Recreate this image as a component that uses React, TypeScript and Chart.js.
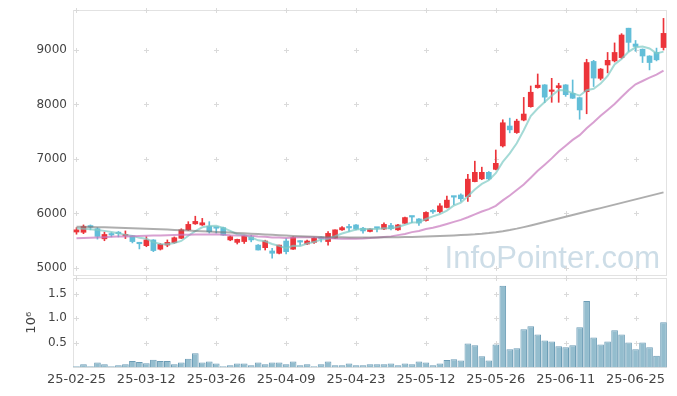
import React, { useEffect, useRef } from "react";
import { Chart, registerables } from "chart.js";
Chart.register(...registerables);

const DATES = [
  "25-02-25","25-02-26","25-02-27","25-02-28","25-03-04","25-03-05","25-03-06","25-03-07","25-03-10","25-03-11",
  "25-03-12","25-03-13","25-03-14","25-03-17","25-03-18","25-03-19","25-03-20","25-03-21","25-03-24","25-03-25",
  "25-03-26","25-03-27","25-03-28","25-03-31","25-04-01","25-04-02","25-04-03","25-04-04","25-04-07","25-04-08",
  "25-04-09","25-04-10","25-04-11","25-04-14","25-04-15","25-04-16","25-04-17","25-04-18","25-04-21","25-04-22",
  "25-04-23","25-04-24","25-04-25","25-04-28","25-04-29","25-04-30","25-05-02","25-05-07","25-05-08","25-05-09",
  "25-05-12","25-05-13","25-05-14","25-05-15","25-05-16","25-05-19","25-05-20","25-05-21","25-05-22","25-05-23",
  "25-05-26","25-05-27","25-05-28","25-05-29","25-05-30","25-06-02","25-06-04","25-06-05","25-06-09","25-06-10",
  "25-06-11","25-06-12","25-06-13","25-06-16","25-06-17","25-06-18","25-06-19","25-06-20","25-06-23","25-06-24",
  "25-06-25","25-06-26","25-06-27","25-06-30","25-07-01",
];

const OPEN = [
  5660,5655,5760,5720,5535,5620,5640,5590,5590,5455,
  5410,5515,5345,5420,5465,5545,5700,5810,5790,5765,
  5740,5740,5515,5470,5485,5570,5420,5373,5312,5270,
  5495,5345,5500,5440,5470,5550,5485,5545,5700,5745,
  5790,5730,5670,5740,5715,5780,5700,5820,5945,5900,
  5870,6040,6035,6110,6310,6340,6310,6585,6635,6755,
  6810,7240,7605,7485,7715,7960,8310,8360,8240,8310,
  8360,8205,8125,8235,8790,8480,8725,8800,8860,9400,
  9110,9015,8890,8955,9045,
];
const HIGH = [
  5740,5790,5790,5740,5660,5650,5670,5680,5600,5460,
  5575,5520,5450,5515,5570,5720,5850,5950,5910,5850,
  5745,5750,5590,5530,5600,5600,5430,5510,5360,5420,
  5540,5570,5505,5510,5560,5570,5670,5700,5760,5800,
  5795,5745,5725,5745,5830,5820,5800,5935,5950,5905,
  6030,6070,6180,6320,6315,6360,6720,6960,6850,6770,
  7165,7720,7750,7730,8130,8340,8560,8365,8480,8390,
  8365,8450,8130,8830,8810,8660,8955,9130,9300,9400,
  9175,9020,8895,9035,9580,
];
const LOW = [
  5620,5630,5700,5530,5500,5570,5570,5540,5460,5350,
  5390,5300,5330,5390,5450,5540,5690,5800,5780,5640,
  5640,5600,5500,5440,5450,5480,5330,5330,5180,5260,
  5260,5340,5420,5430,5450,5480,5420,5540,5690,5670,
  5700,5640,5660,5660,5705,5700,5690,5815,5830,5780,
  5860,6000,6010,6100,6160,6220,6220,6580,6620,6620,
  6800,7220,7480,7470,7700,7950,8300,8035,8040,8040,
  8150,8110,7730,7830,8330,8450,8580,8780,8840,8975,
  8975,8770,8635,8800,9000,
];
const CLOSE = [
  5700,5760,5750,5580,5615,5605,5630,5610,5485,5445,
  5515,5320,5435,5470,5555,5700,5800,5855,5830,5665,
  5730,5605,5575,5525,5590,5515,5330,5495,5270,5420,
  5300,5560,5475,5495,5545,5540,5635,5700,5740,5735,
  5715,5680,5715,5730,5800,5720,5790,5925,5935,5825,
  6020,6030,6140,6245,6300,6270,6630,6755,6755,6635,
  6920,7665,7535,7695,7825,8225,8355,8135,8265,8345,
  8180,8115,7900,8770,8485,8650,8810,8955,9275,9140,
  9065,8890,8770,8820,9305,
];

const MA5 = [
  5730,5720,5710,5695,5681,5662,5636,5608,5589,5555,
  5537,5475,5440,5437,5459,5496,5592,5675,5747,5769,
  5775,5736,5681,5620,5605,5562,5507,5491,5440,5406,
  5363,5409,5405,5450,5475,5523,5538,5583,5632,5670,
  5705,5714,5717,5715,5728,5729,5751,5793,5834,5839,
  5899,5947,5990,6052,6147,6197,6317,6440,6542,6609,
  6739,6946,7102,7290,7528,7789,7927,8047,8161,8265,
  8256,8208,8161,8262,8290,8384,8523,8734,8835,8966,
  9049,9065,9028,8937,8970,
];
const MA20 = [
  5545,5550,5556,5560,5566,5572,5576,5580,5584,5588,
  5592,5595,5598,5602,5606,5609,5612,5614,5615,5616,
  5618,5610,5601,5598,5597,5593,5578,5572,5561,5560,
  5549,5561,5563,5564,5564,5556,5548,5540,5536,5539,
  5538,5542,5549,5559,5570,5580,5603,5625,5658,5678,
  5714,5738,5771,5808,5846,5883,5932,5985,6036,6081,
  6141,6240,6331,6430,6531,6656,6784,6895,7011,7137,
  7245,7350,7438,7564,7673,7792,7901,8011,8137,8262,
  8370,8431,8493,8549,8623,
];
const MA120 = [
  5758,5755,5752,5749,5746,5742,5738,5734,5730,5726,
  5721,5716,5711,5705,5699,5692,5686,5680,5674,5668,
  5662,5656,5650,5644,5637,5630,5623,5616,5609,5602,
  5595,5589,5583,5578,5573,5569,5566,5564,5562,5561,
  5560,5560,5560,5561,5562,5563,5565,5567,5570,5573,
  5577,5581,5586,5592,5598,5605,5610,5617,5627,5640,
  5656,5675,5697,5722,5750,5780,5811,5843,5875,5907,
  5939,5971,6003,6035,6067,6099,6131,6163,6195,6227,
  6259,6291,6323,6355,6387,
];

const VOLUME = [
  27000,67000,27000,100000,67000,27000,47000,67000,130000,110000,
  88000,160000,130000,130000,67000,100000,180000,290000,100000,120000,
  80000,27000,47000,80000,80000,47000,100000,67000,100000,100000,
  67000,120000,47000,67000,27000,67000,120000,47000,47000,80000,
  47000,47000,67000,67000,67000,80000,47000,80000,67000,120000,
  100000,47000,80000,150000,170000,140000,490000,450000,230000,140000,
  470000,1660000,370000,390000,780000,840000,670000,550000,530000,430000,
  410000,450000,820000,1350000,610000,470000,530000,760000,670000,510000,
  370000,510000,410000,240000,920000,
];

const PRICE_TICKS = [5000, 6000, 7000, 8000, 9000];
const PRICE_RANGE = [4853, 9734];
const VOLUME_TICKS = [500000, 1000000, 1500000];
const VOLUME_RANGE = [0, 1820000];
const DATE_TICKS = ["25-02-25","25-03-12","25-03-26","25-04-09","25-04-23","25-05-12","25-05-26","25-06-11","25-06-25"];

const UP = "rgb(236,52,58)";
const DOWN = "rgb(98,190,216)";
const FONT = "'DejaVu Sans', sans-serif";

function framePlugin(watermark: boolean) {
  return {
    id: "frameCross",
    beforeDatasetsDraw(chart: any) {
      const { ctx, chartArea: a, scales } = chart;
      const xs = scales.x;
      const ys = scales.y;
      ctx.save();
      if (watermark) {
        ctx.font = "31px 'Liberation Sans', Arial, sans-serif";
        ctx.fillStyle = "rgba(192,213,225,0.8)";
        ctx.textAlign = "right";
        ctx.textBaseline = "alphabetic";
        ctx.fillText("InfoPointer.com", a.right - 7, a.bottom - 8);
      }
      ctx.strokeStyle = "#e2e2e2";
      ctx.lineWidth = 1;
      const L = Math.round(a.left) + 0.5;
      const R = Math.round(a.right) - 0.5;
      const T = Math.round(a.top) + 0.5;
      const B = Math.round(a.bottom) - 0.5;
      ctx.strokeRect(L, T, R - L, B - T);
      ctx.strokeStyle = "#dadada";
      const yPix = [a.top, ...ys.ticks.map((t: any) => ys.getPixelForValue(t.value))];
      for (const d of DATE_TICKS) {
        const px = Math.round(xs.getPixelForValue(DATES.indexOf(d))) + 0.5;
        for (const p of yPix) {
          const py = Math.round(p) + 0.5;
          ctx.beginPath();
          ctx.moveTo(px - 2.5, py);
          ctx.lineTo(px + 2.5, py);
          ctx.moveTo(px, py - 2.5);
          ctx.lineTo(px, py + 2.5);
          ctx.stroke();
        }
      }
      ctx.restore();
    },
  };
}

export default function App() {
  const priceRef = useRef<HTMLCanvasElement>(null);
  const volRef = useRef<HTMLCanvasElement>(null);

  useEffect(() => {
    const colors = DATES.map((_, i) => (CLOSE[i] >= OPEN[i] ? UP : DOWN));
    const lineDs = (label: string, data: number[], color: string) => ({
      type: "line" as const,
      label,
      data,
      borderColor: color,
      borderWidth: 2,
      pointRadius: 0,
      tension: 0,
      fill: false,
      order: 0,
    });
    const noPad = (s: any) => { s.width = 73; s.paddingTop = 0; s.paddingBottom = 0; };
    const price = new Chart(priceRef.current!, {
      type: "bar",
      data: {
        labels: DATES,
        datasets: [
          lineDs("MA120", MA120, "rgba(120,120,120,0.6)"),
          lineDs("MA20", MA20, "rgba(200,120,190,0.7)"),
          lineDs("MA5", MA5, "rgba(125,202,197,0.7)"),
          {
            type: "bar",
            label: "body",
            data: DATES.map((_, i) => [OPEN[i], CLOSE[i]]),
            backgroundColor: colors,
            barThickness: 5,
            grouped: false,
            minBarLength: 1.5,
            order: 1,
          },
          {
            type: "bar",
            label: "wick",
            data: DATES.map((_, i) => [LOW[i], HIGH[i]]),
            backgroundColor: colors,
            barThickness: 1,
            grouped: false,
            order: 2,
          },
        ] as any,
      },
      options: {
        responsive: false,
        maintainAspectRatio: false,
        animation: false,
        devicePixelRatio: 1,
        events: [],
        layout: { padding: { top: 10, right: 10, bottom: 4, left: 0 } },
        plugins: { legend: { display: false }, tooltip: { enabled: false } },
        scales: {
          x: { display: false, offset: true },
          y: {
            min: PRICE_RANGE[0],
            max: PRICE_RANGE[1],
            afterFit: noPad,
            afterBuildTicks: (s: any) => { s.ticks = PRICE_TICKS.map((v) => ({ value: v })); },
            grid: { display: false, drawTicks: false },
            border: { display: false },
            ticks: { color: "#444", font: { family: FONT, size: 12 }, padding: 6, callback: (v: any) => String(v) },
          },
        },
      },
      plugins: [framePlugin(true)],
    });

    const vol = new Chart(volRef.current!, {
      type: "bar",
      data: {
        labels: DATES,
        datasets: [
          {
            label: "Volume",
            data: VOLUME,
            backgroundColor: "rgba(148,189,206,1)",
            borderColor: "rgba(108,157,182,1)",
            borderWidth: 1,
            barPercentage: 1,
            categoryPercentage: 0.95,
          },
        ],
      },
      options: {
        responsive: false,
        maintainAspectRatio: false,
        animation: false,
        devicePixelRatio: 1,
        events: [],
        layout: { padding: { top: 8, right: 10, bottom: 0, left: 0 } },
        plugins: { legend: { display: false }, tooltip: { enabled: false } },
        scales: {
          x: {
            offset: true,
            afterFit: (s: any) => { s.height = 28.5; s.paddingLeft = 0; s.paddingRight = 0; },
            grid: { display: false, drawTicks: false },
            border: { display: false },
            ticks: {
              autoSkip: false,
              maxRotation: 0,
              color: "#444",
              font: { family: FONT, size: 13 },
              padding: 4,
              callback: (_v: any, i: number) => (DATE_TICKS.includes(DATES[i]) ? DATES[i] : null),
            },
          },
          y: {
            min: VOLUME_RANGE[0],
            max: VOLUME_RANGE[1],
            afterFit: noPad,
            afterBuildTicks: (s: any) => { s.ticks = VOLUME_TICKS.map((v) => ({ value: v })); },
            grid: { display: false, drawTicks: false },
            border: { display: false },
            title: { display: true, text: "10⁶", color: "#444", font: { family: FONT, size: 13 }, padding: { top: 24, bottom: 0 } },
            ticks: { color: "#444", font: { family: FONT, size: 12 }, padding: 6, callback: (v: any) => (v / 1e6).toFixed(1) },
          },
        },
      },
      plugins: [framePlugin(false)],
    });

    return () => {
      price.destroy();
      vol.destroy();
    };
  }, []);

  return (
    <div style={{ position: "absolute", left: 0, top: 0, width: 677, height: 396, background: "#fff" }}>
      <canvas ref={priceRef} width={677} height={280} style={{ position: "absolute", left: 0, top: 0, width: 677, height: 280 }} />
      <canvas ref={volRef} width={677} height={126} style={{ position: "absolute", left: 0, top: 270, width: 677, height: 126 }} />
    </div>
  );
}
